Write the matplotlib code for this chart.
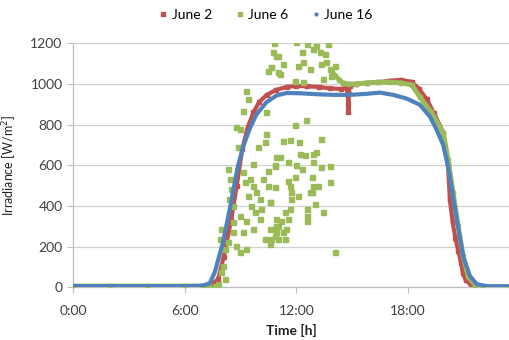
import matplotlib.pyplot as plt

plt.rcParams['font.family'] = ['Lato', 'DejaVu Sans']

# June 16 (clear day)
jun16_t = [0, 2, 4, 6, 6.8, 7.0, 7.35, 7.62, 8.06, 8.46, 8.85, 9.14, 9.5, 9.86, 10.4,
           10.94, 11.47, 12.19, 13.09, 13.98, 14.88, 15.77, 16.49, 17.2, 17.92, 18.64,
           19.18, 19.54, 19.89, 20.16, 20.43, 20.7, 20.97, 21.33, 21.7, 22.3, 23.5]
jun16_v = [6, 6, 6, 6, 7, 9, 20, 74, 220, 400, 590, 690, 780, 850, 910,
           943, 955, 954, 949, 946, 946, 951, 957, 946, 928, 897,
           839, 774, 700, 590, 440, 290, 150, 55, 15, 5, 5]

# June 2
jun2_t = [0, 2, 4, 6, 7.0, 7.4, 7.8, 8.1, 8.5, 8.8, 9.1, 9.4, 9.7, 10.0, 10.4, 10.9,
          11.5, 12.0, 12.6, 13.2, 13.8, 14.4, 14.7, 14.76, 14.79, 14.8, 14.82, 14.86,
          15.2, 15.8, 16.4, 17.0, 17.6, 18.2, 18.6, 19.0, 19.4, 19.9, 20.15, 20.25,
          20.4, 20.55, 20.7, 20.85, 20.95, 21.1, 21.4, 21.8, 22.5, 23.5]
jun2_v = [2, 2, 2, 2, 4, 10, 40, 150, 330, 500, 680, 790, 860, 910, 945, 970,
          985, 990, 988, 985, 978, 975, 980, 950, 900, 862, 950, 990,
          1000, 1005, 1008, 1015, 1020, 1010, 975, 925, 855, 760, 600, 430,
          320, 240, 180, 120, 70, 35, 10, 3, 2, 2]

# June 6 - smooth parts
jun6_t = [0, 2, 4, 6, 7.0, 7.3]
jun6_v = [8, 8, 8, 8, 8, 9]
jun6_pm_t = [13.9, 14.1, 14.3, 14.5, 14.8, 15.2, 15.8, 16.4, 17.0, 17.6, 18.2, 18.64,
             19.26, 19.89, 20.16, 20.43, 20.7, 20.97, 21.23, 21.59, 22.04, 23.5]
jun6_pm_v = [1060, 1040, 1020, 1005, 1000, 1000, 1005, 1008, 1008, 1005, 995, 935,
             860, 760, 628, 464, 300, 152, 54, 13, 3, 3]

# June 6 - cloudy morning scatter
jun6_sc_t = [10.79, 10.93, 10.66, 10.48, 11.02, 9.32, 9.41, 9.14, 10.39, 8.78, 8.96,
             10.39, 10.3, 8.87, 9.95, 10.84, 10.93, 10.48, 10.57, 7.97, 7.89, 8.15,
             8.33, 8.6, 8.78, 8.96, 9.32, 10.57, 10.57, 10.93, 11.02, 8.06, 7.97, 8.15,
             7.8, 7.62, 8.33, 8.42, 8.51, 8.39, 8.6, 9.14, 9.23, 9.5, 9.68, 9.41, 9.86,
             10.04, 9.59, 10.12, 9.77, 8.96, 9.32, 8.6, 10.04, 9.68, 9.14, 10.3, 10.66,
             9.68, 10.48, 10.21,
             10.75, 10.66, 11.02, 11.29, 11.11, 12.01, 12.28, 12.55, 13.08, 13.26, 13.53,
             13.71, 12.37, 12.1, 12.73, 13.35, 13.62, 13.8, 14.07, 13.44, 12.37, 11.92,
             12.9, 13.89, 11.92, 12.51, 11.29, 11.65, 12.15, 13.35, 11.11, 12.19, 12.46,
             12.9, 13.05, 10.84, 11.56, 12.01, 12.28, 12.9, 13.35, 13.8, 11.92, 12.87,
             11.56, 10.84, 11.65, 13.8, 12.9, 13.17, 12.73, 12.1, 12.99, 12.55, 13.44,
             10.58, 11.38, 11.47, 11.56, 11.65, 11.74, 11.69, 11.29, 11.2, 11.38, 10.93,
             11.02, 10.93, 10.84, 12.55, 12.55, 14.07, 12.87]
jun6_sc_v = [1201, 1139, 1082, 1065, 1057, 967, 926, 869, 860, 787, 779,
             754, 713, 688, 688, 598, 639, 500, 418, 287, 238, 188,
             221, 270, 205, 172, 188, 287, 213, 336, 303, 107, 74, 41,
             16, 8, 582, 533, 483, 434, 402, 565, 516, 533, 500, 451, 467,
             434, 402, 385, 369, 352, 328, 320, 336, 287, 270, 238, 238,
             606, 574, 533,
             1156, 1082, 1139, 1098, 1049, 1205, 1156, 1197, 1188, 1156, 1147,
             1197, 1106, 1090, 1074, 1098, 1106, 1074, 1090, 1024, 1008, 1016,
             1172, 1041, 798, 820, 721, 726, 713, 729, 639, 656, 651,
             656, 664, 601, 615, 601, 582, 615, 590, 598, 541, 541,
             524, 492, 500, 520, 500, 500, 467, 451, 410, 385, 369,
             418, 238, 287, 336, 385, 434, 467, 270, 328, 369, 303,
             238, 270, 254, 352, 328, 172, 467]

red = '#C0504D'
green = '#9BBB59'
blue = '#4F81BD'

fig = plt.figure(figsize=(5.1, 3.4), dpi=100)
ax = fig.add_axes([0.143, 0.155, 0.857, 0.718])

ax.plot(jun2_t, jun2_v, color=red, lw=3, marker='s', ms=3.2, zorder=2)
ax.plot(jun6_t, jun6_v, color=green, lw=3, marker='s', ms=3.5, zorder=3)
ax.plot(jun6_pm_t, jun6_pm_v, color=green, lw=3.5, marker='s', ms=3.5, zorder=3)
ax.plot(jun6_sc_t, jun6_sc_v, ls='none', color=green, marker='s', ms=3.6, zorder=3)
ax.plot(jun16_t, jun16_v, color=blue, lw=3, zorder=4)

ax.set_xlim(0, 23.48)
ax.set_ylim(0, 1200)
ax.set_yticks(range(0, 1201, 200))
ax.set_xticks([0, 6, 12, 18])
ax.set_xticklabels(['0:00', '6:00', '12:00', '18:00'])
ax.tick_params(labelsize=10, colors='#404040', length=4, width=0.8)
ax.tick_params(axis='x', color='#BFBFBF', pad=9)
ax.tick_params(axis='y', color='#BFBFBF')
ax.grid(axis='y', color='#D0D0D0', lw=0.9)
ax.set_axisbelow(True)
for s in ['top', 'right']:
    ax.spines[s].set_visible(False)
for s in ['left', 'bottom']:
    ax.spines[s].set_color('#BFBFBF')
    ax.spines[s].set_linewidth(0.9)

ax.set_xlabel('Time [h]', fontsize=10, fontweight='bold', color='#222222', labelpad=5)
ax.set_ylabel('Irradiance [W/m$^2$]', fontsize=9, color='#222222', labelpad=8)

h1, = ax.plot([], [], ls='none', marker='s', ms=3.2, color=red)
h2, = ax.plot([], [], ls='none', marker='s', ms=3.2, color=green)
h3, = ax.plot([], [], ls='none', marker='o', ms=2.0, color=blue)
fig.legend([h1, h2, h3], ['June 2', 'June 6', 'June 16'], loc='upper center',
           bbox_to_anchor=(0.52, 1.01), ncol=3, frameon=False, fontsize=10,
           handletextpad=0.2, columnspacing=1.6, handlelength=0.8)

fig.savefig('out.png', dpi=100)
